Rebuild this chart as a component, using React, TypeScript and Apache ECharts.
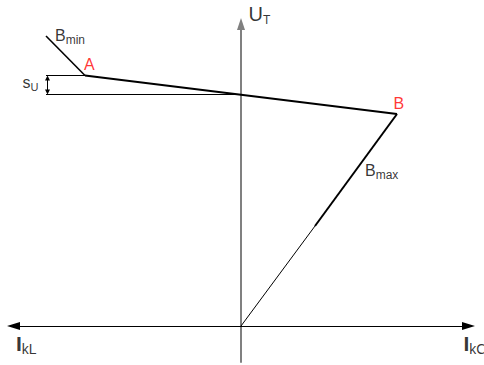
import React, { useEffect, useRef } from "react";
import * as echarts from "echarts";

// Characteristic lines (x: current, y: voltage), origin at axes crossing
const bMinLine = [[-195, 290], [-156, 250.5]];
const characteristicAB = [[-156, 250.5], [156, 212]];
const bMaxThick = [[156, 212], [74, 100]];
const bMaxThin = [[74, 100], [0, 0]];
const suUpper = [[-195, 250.5], [-156, 250.5]];
const suLower = [[-195, 231.5], [0, 231.5]];
const suArrow = [[-193.5, 248], [-193.5, 234]];

// Label texts and their anchor points (data coordinates)
const labelNames = ["Bmin", "A", "sU", "UT", "B", "Bmax", "IkL", "IkC"];
const labelTexts = [
  "{m|B}{sub|min}",
  "{red|A}",
  "{m|s}{subU|U}",
  "{big|U}{subT|T}",
  "{redB|B}",
  "{m|B}{sub|max}",
  "{I|I}{subK|kL}",
  "{I|I}{subK|kC}",
];
const labelAnchors = [
  [-185.5, 300],
  [-156.5, 271],
  [-218, 253.5],
  [8, 324],
  [153, 232.5],
  [124.5, 165],
  [-224.5, -4.7],
  [223, -4.7],
];

const FONT = "'Liberation Sans', Arial, sans-serif";

export default function App() {
  const ref = useRef<HTMLDivElement>(null);
  useEffect(() => {
    if (!ref.current) return;
    const chart = echarts.init(ref.current, undefined, { renderer: "svg" });
    const lineSeries = (data: number[][], width: number) => ({
      type: "line",
      data,
      symbol: "none",
      silent: true,
      lineStyle: { color: "#000", width },
      z: 5,
    });
    chart.setOption({
      animation: false,
      backgroundColor: "#fff",
      grid: { left: 13.5, right: 15.5, top: 24, bottom: 3 },
      xAxis: {
        type: "value",
        min: -227.5,
        max: 227.5,
        axisLine: {
          onZero: true,
          symbol: ["triangle", "triangle"],
          symbolSize: [8, 13],
          lineStyle: { color: "#000", width: 1.2 },
        },
        axisTick: { show: false },
        axisLabel: { show: false },
        splitLine: { show: false },
      },
      yAxis: {
        type: "value",
        min: -36,
        max: 302,
        axisLine: {
          onZero: true,
          symbol: ["none", "triangle"],
          symbolSize: [8, 12],
          lineStyle: { color: "#808080", width: 2 },
        },
        axisTick: { show: false },
        axisLabel: { show: false },
        splitLine: { show: false },
      },
      series: [
        lineSeries(bMinLine, 1.6),
        lineSeries(characteristicAB, 2),
        lineSeries(bMaxThick, 2),
        lineSeries(bMaxThin, 1),
        lineSeries(suUpper, 1),
        {
          ...lineSeries(suLower, 1),
          markLine: {
            silent: true,
            symbol: ["triangle", "triangle"],
            symbolSize: [5, 5],
            label: { show: false },
            lineStyle: { color: "#000", width: 1, type: "solid" },
            emphasis: { disabled: true },
            data: [[{ coord: suArrow[0] }, { coord: suArrow[1] }]],
          },
        },
        {
          type: "scatter",
          silent: true,
          clip: false,
          symbolSize: 1,
          itemStyle: { color: "transparent" },
          z: 10,
          data: labelNames.map((name, i) => ({
            name,
            value: labelAnchors[i],
            label: { formatter: labelTexts[i] },
          })),
          label: {
            show: true,
            position: [0, 0],
            fontFamily: FONT,
            rich: {
              m: { fontSize: 16, lineHeight: 20, color: "#000", fontFamily: FONT },
              sub: { fontSize: 12, lineHeight: 12, verticalAlign: "bottom", color: "#000", fontFamily: FONT },
              subU: { fontSize: 11, lineHeight: 11, verticalAlign: "bottom", color: "#000", fontFamily: FONT },
              red: { fontSize: 16, lineHeight: 20, color: "#ff0000", fontFamily: FONT },
              redB: { fontSize: 16, lineHeight: 20, color: "#ff0000", fontFamily: FONT },
              big: { fontSize: 20, lineHeight: 24, color: "#000", fontFamily: FONT },
              subT: { fontSize: 12, lineHeight: 18, verticalAlign: "bottom", color: "#000", fontFamily: FONT },
              I: { fontSize: 21, lineHeight: 26, fontWeight: "bold", color: "#000", fontFamily: FONT },
              subK: { fontSize: 14, lineHeight: 19, verticalAlign: "bottom", color: "#000", fontFamily: FONT },
            },
          },
        },
      ],
    });
    return () => chart.dispose();
  }, []);
  return (
    <div
      ref={ref}
      style={{ position: "fixed", left: 0, top: 0, width: 484, height: 365 }}
    />
  );
}
